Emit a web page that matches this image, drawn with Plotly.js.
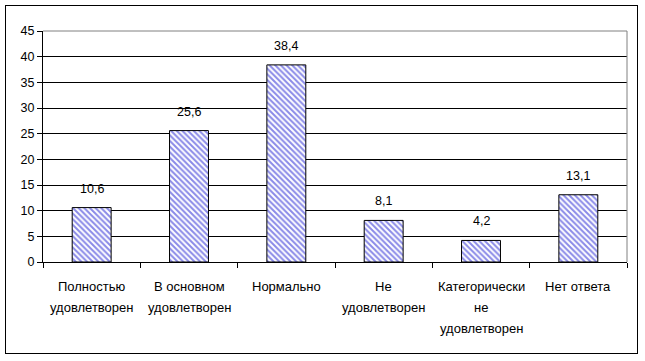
<!DOCTYPE html>
<html>
<head>
<meta charset="utf-8">
<script src="https://cdn.plot.ly/plotly-3.0.1.min.js"></script>
<style>
  html, body { margin: 0; padding: 0; background: #fff; }
  #wrap { position: relative; width: 645px; height: 361px; }
  #chart { width: 645px; height: 361px; }
  #frame { position: absolute; left: 5px; top: 5px; width: 631px; height: 347px; border: 1px solid #000; pointer-events: none; }
</style>
</head>
<body>
<div id="wrap">
  <div id="chart"></div>
  <div id="frame"></div>
</div>
<script>
const categories = [
  "Полностью удовлетворен",
  "В основном удовлетворен",
  "Нормально",
  "Не удовлетворен",
  "Категорически не удовлетворен",
  "Нет ответа"
];
const categoryLines = [
  ["Полностью", "удовлетворен"],
  ["В основном", "удовлетворен"],
  ["Нормально"],
  ["Не", "удовлетворен"],
  ["Категорически", "не", "удовлетворен"],
  ["Нет ответа"]
];
const values = [10.6, 25.6, 38.4, 8.1, 4.2, 13.1];
const valueLabels = ["10,6", "25,6", "38,4", "8,1", "4,2", "13,1"];

const fam = "Liberation Sans, Arial, sans-serif";
const font = { family: fam, size: 12.5, color: "#000" };
const catFont = { family: fam, size: 13, color: "#000" };

const trace = {
  type: "bar",
  x: categories,
  y: values,
  marker: {
    color: "#ffffff",
    line: { color: "#000", width: 1 },
    pattern: { shape: "\\", fgcolor: "#8a8ae8", bgcolor: "#ffffff", size: 4, solidity: 0.5 }
  },
  hoverinfo: "skip"
};

const annotations = categories.map((c, i) => ({
  x: c, y: values[i], xref: "x", yref: "y",
  text: valueLabels[i], showarrow: false,
  yanchor: "bottom", yshift: 10, font: font
}));

categoryLines.forEach((lines, i) => {
  lines.forEach((t, j) => {
    annotations.push({
      x: categories[i], xref: "x", y: 0, yref: "paper",
      text: t, showarrow: false, yanchor: "top",
      yshift: -15 - 21 * j, font: catFont
    });
  });
});

const layout = {
  width: 645, height: 361,
  margin: { l: 43, r: 18, t: 31, b: 99 },
  paper_bgcolor: "#fff", plot_bgcolor: "#fff",
  showlegend: false,
  bargap: 0.6,
  font: font,
  xaxis: {
    type: "category",
    showline: true, linecolor: "#000", linewidth: 1,
    ticks: "outside", ticklen: 5, tickcolor: "#000", tickson: "boundaries",
    showgrid: false, showticklabels: false, fixedrange: true
  },
  yaxis: {
    range: [0, 45], dtick: 5, tick0: 0,
    showline: true, linecolor: "#000", linewidth: 1,
    ticks: "outside", ticklen: 5, tickcolor: "#000",
    showgrid: true, gridcolor: "#000", gridwidth: 1,
    zeroline: false, tickfont: font, fixedrange: true
  },
  annotations: annotations,
  shapes: [
    { type: "line", xref: "paper", yref: "paper", x0: 0, x1: 1, y0: 1, y1: 1, line: { color: "#808080", width: 1 } },
    { type: "line", xref: "paper", yref: "paper", x0: 1, x1: 1, y0: 0, y1: 1, line: { color: "#808080", width: 1 } }
  ]
};

Plotly.newPlot("chart", [trace], layout, { displayModeBar: false, staticPlot: true });
</script>
</body>
</html>
